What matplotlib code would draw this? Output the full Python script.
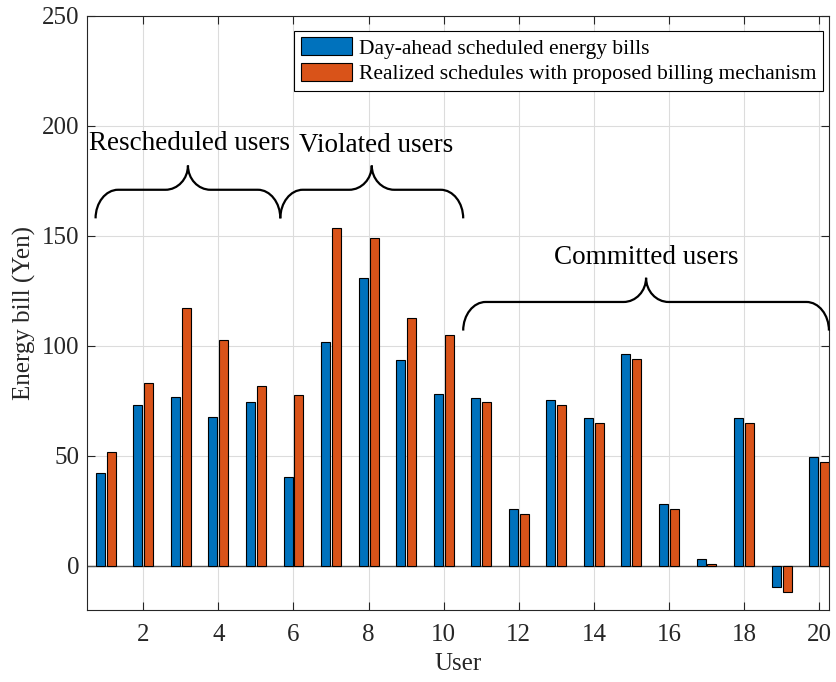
import numpy as np
import matplotlib
matplotlib.use('Agg')
import matplotlib.pyplot as plt
from matplotlib.path import Path
from matplotlib.patches import PathPatch

plt.rcParams['font.family'] = ['Liberation Serif', 'DejaVu Serif']
plt.rcParams['mathtext.fontset'] = 'stix'

users = np.arange(1, 21)
day_ahead = [42.1, 73.0, 76.7, 67.7, 74.7, 40.6, 101.8, 131.0, 93.8, 78.2,
             76.5, 25.8, 75.5, 67.3, 96.5, 28.0, 3.3, 67.4, -9.4, 49.4]
realized = [51.8, 83.2, 117.3, 102.6, 82.0, 77.9, 153.5, 149.0, 112.9, 105.2,
            74.4, 23.5, 73.0, 64.8, 94.3, 25.8, 1.0, 65.2, -11.7, 47.1]
labels = ['Day-ahead scheduled energy bills',
          'Realized schedules with proposed billing mechanism']

# brace groups: (x start, x end, bottom y, text, text x, text y)
groups = [(0.73, 5.65, 158, 'Rescheduled users', 3.22, 192),
          (5.65, 10.52, 158, 'Violated users', 8.2, 191),
          (10.52, 20.26, 107, 'Committed users', 15.4, 140)]

blue = '#0072BD'
orange = '#D95319'
axc = '#262626'


def brace(ax, x0, x1, yb, h=24, rx=0.6):
    xm = (x0 + x1) / 2
    yf = yb + h / 2 + 1
    yt = yb + h
    k = 0.55
    verts = [(x0, yb), (x0, yb + (yf - yb) * k), (x0 + rx * (1 - k), yf), (x0 + rx, yf),
             (xm - rx, yf),
             (xm - rx * (1 - k), yf), (xm, yf + (yt - yf) * (1 - k)), (xm, yt),
             (xm, yf + (yt - yf) * (1 - k)), (xm + rx * (1 - k), yf), (xm + rx, yf),
             (x1 - rx, yf),
             (x1 - rx * (1 - k), yf), (x1, yb + (yf - yb) * k), (x1, yb)]
    codes = [Path.MOVETO, Path.CURVE4, Path.CURVE4, Path.CURVE4,
             Path.LINETO,
             Path.CURVE4, Path.CURVE4, Path.CURVE4,
             Path.CURVE4, Path.CURVE4, Path.CURVE4,
             Path.LINETO,
             Path.CURVE4, Path.CURVE4, Path.CURVE4]
    ax.add_patch(PathPatch(Path(verts, codes), fill=False, lw=1.6, color='black',
                           clip_on=False, zorder=5))


fig = plt.figure(figsize=(8.36, 6.82), dpi=100)
ax = fig.add_axes([0.104, 0.1056, 0.888, 0.871])

w = 0.24
off = 0.145
ax.bar(users - off, day_ahead, w, color=blue, edgecolor='black', lw=0.8,
       label=labels[0], zorder=3)
ax.bar(users + off, realized, w, color=orange, edgecolor='black', lw=0.8,
       label=labels[1], zorder=3)
ax.axhline(0, color='#555555', lw=1.0, zorder=2)

for x0, x1, yb, txt, tx, ty in groups:
    brace(ax, x0, x1, yb)
    ax.text(tx, ty, txt, ha='center', va='center', fontsize=19.5, color='black', zorder=6)

ax.set_xlim(0.5, 20.27)
ax.set_ylim(-20, 250)
ax.set_xticks(np.arange(2, 21, 2))
ax.set_yticks(np.arange(0, 251, 50))
ax.grid(True, color='#dcdcdc', lw=0.8, zorder=0)
ax.set_axisbelow(True)
ax.tick_params(direction='in', top=True, right=True, labelsize=18, colors=axc,
               length=6, width=0.8)
ax.tick_params(axis='x', pad=10)
ax.tick_params(axis='y', pad=5.5)
for s in ax.spines.values():
    s.set_color(axc)
    s.set_linewidth(0.8)
ax.set_xlabel('User', fontsize=18, color=axc, labelpad=5)
ax.set_ylabel('Energy bill (Yen)', fontsize=18, color=axc, labelpad=4)

leg = ax.legend(loc='upper right', fontsize=15.5, fancybox=False, framealpha=1,
                edgecolor='black', handlelength=2.4, handleheight=0.9,
                borderpad=0.3, labelspacing=0.2, handletextpad=0.3,
                bbox_to_anchor=(0.991, 0.975), borderaxespad=0)
leg.get_frame().set_linewidth(0.8)

fig.savefig('out.png', dpi=100)
